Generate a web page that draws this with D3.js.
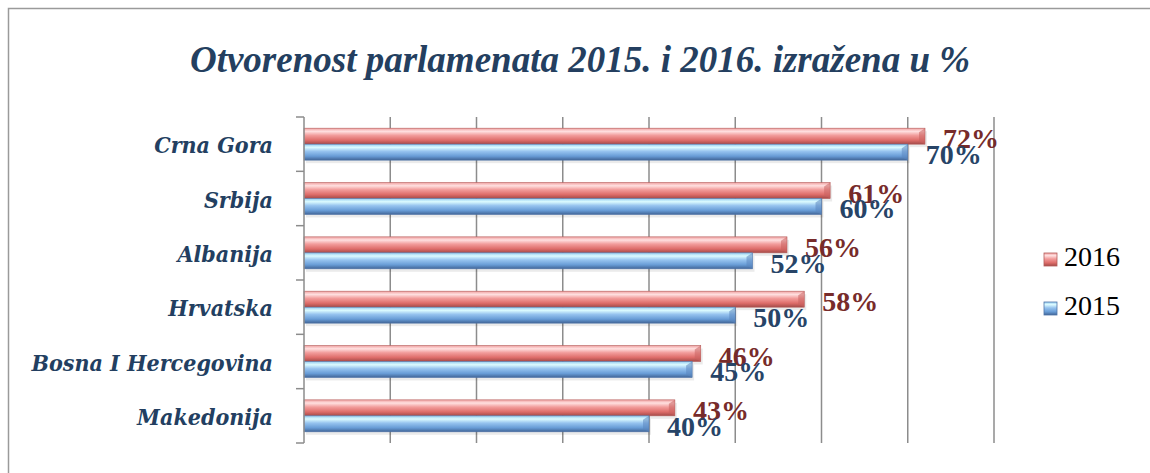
<!DOCTYPE html>
<html>
<head>
<meta charset="utf-8">
<script src="https://cdn.jsdelivr.net/npm/d3@7"></script>
<style>
  body { margin:0; background:#fff; }
  svg { display:block; }
</style>
</head>
<body>
<div id="chart"></div>
<script>
'use strict';
// podaci
var categories = ['Crna Gora','Srbija','Albanija','Hrvatska','Bosna I Hercegovina','Makedonija'];
var series = ['2016','2015'];
var values2016 = [72, 61, 56, 58, 46, 43];
var values2015 = [70, 60, 52, 50, 45, 40];
var xTicks = [0,10,20,30,40,50,60,70,80];

var width = 1150, height = 473;
var svg = d3.select('#chart').append('svg').attr('width', width).attr('height', height);

var defs = svg.append('defs');
function grad(id, stops) {
  var g = defs.append('linearGradient').attr('id', id).attr('x1',0).attr('y1',0).attr('x2',0).attr('y2',1);
  stops.forEach(function (s) { g.append('stop').attr('offset', s[0]).attr('stop-color', s[1]); });
}
grad('g2016', [[0,'#f0a0a0'],[0.2,'#ffe0e0'],[0.45,'#f29c9b'],[0.75,'#de6d6a'],[1,'#a44a48']]);
grad('g2015', [[0,'#96ccf0'],[0.2,'#dcfbff'],[0.45,'#96c3ef'],[0.75,'#689cd6'],[1,'#416597']]);
var fills = {'2016':'url(#g2016)','2015':'url(#g2015)'};
var edge = {'2016':'#b35d5b','2015':'#4f74a8'};
var labelColor = {'2016':'#772b2a','2015':'#274467'};

// okvir
svg.append('path').attr('d','M8.5,' + height + ' V8.5 H' + width)
  .attr('fill','none').attr('stroke','#9a9a9a').attr('stroke-width',1.5);

svg.append('text').attr('x', 580).attr('y', 72).attr('text-anchor','middle')
  .style('font-family','"Liberation Serif", "Times New Roman", serif')
  .style('font-weight','bold').style('font-style','italic').style('font-size','37px')
  .attr('fill','#243f60')
  .text('Otvorenost parlamenata 2015. i 2016. izražena u %');

var pLeft = 304, pRight = 994, pTop = 117, pBottom = 443;
var x = d3.scaleLinear().domain([0,80]).range([pLeft,pRight]);
var y0 = d3.scaleBand().domain(categories).range([pTop,pBottom]);
var y1 = d3.scaleBand().domain(series).range([0,y0.bandwidth()]).paddingOuter(0.7);

// mreza
svg.append('g').selectAll('line').data(xTicks.slice(1)).enter().append('line')
  .attr('x1', function (d) { return x(d); }).attr('x2', function (d) { return x(d); })
  .attr('y1', pTop).attr('y2', pBottom)
  .attr('stroke','#8c8c8c').attr('stroke-width',1.5);

var rows = categories.map(function (c, i) {
  return {cat:c, vals:[{s:'2016', v:values2016[i]},{s:'2015', v:values2015[i]}]};
});

var g = svg.append('g').selectAll('g').data(rows).enter().append('g')
  .attr('transform', function (d) { return 'translate(0,' + y0(d.cat) + ')'; });

// sjena
g.selectAll('.shadow').data(function (d) { return d.vals; }).enter().append('rect')
  .attr('x', pLeft + 2).attr('y', function (d) { return y1(d.s) + 3; })
  .attr('width', function (d) { return x(d.v) - pLeft; })
  .attr('height', y1.bandwidth())
  .attr('fill','#000').attr('opacity',0.08);

g.selectAll('.bar').data(function (d) { return d.vals; }).enter().append('rect')
  .attr('x', pLeft).attr('y', function (d) { return y1(d.s); })
  .attr('width', function (d) { return x(d.v) - pLeft; })
  .attr('height', y1.bandwidth())
  .attr('fill', function (d) { return fills[d.s]; })
  .attr('stroke', function (d) { return edge[d.s]; }).attr('stroke-width',0.6);

// kosi rub na kraju
g.selectAll('.bevel').data(function (d) { return d.vals; }).enter().append('path')
  .attr('d', function (d) {
    var xe = x(d.v), yt = y1(d.s), h = y1.bandwidth();
    return 'M' + (xe-6) + ',' + (yt+4) + ' L' + xe + ',' + yt + ' L' + xe + ',' + (yt+h) + ' L' + (xe-6) + ',' + (yt+h-3) + 'Z';
  })
  .attr('fill', function (d) { return d.s == '2016' ? '#c86361' : '#5b86c0'; }).attr('opacity',0.55);

g.selectAll('.lbl').data(function (d) { return d.vals; }).enter().append('text')
  .attr('x', function (d) { return x(d.v) + 18; })
  .attr('y', function (d) { return y1(d.s) + y1.bandwidth()/2 + 12; })
  .style('font-family','"Liberation Serif", "DejaVu Serif", serif')
  .style('font-weight','bold').style('font-size','28px')
  .attr('fill', function (d) { return labelColor[d.s]; })
  .text(function (d) { return d.v + '%'; });

// y os
var ax = svg.append('g').attr('stroke','#8c8c8c').attr('stroke-width',1.5);
ax.append('line').attr('x1',pLeft).attr('x2',pLeft).attr('y1',pTop).attr('y2',pBottom);
ax.selectAll('.tk').data(d3.range(categories.length + 1)).enter().append('line')
  .attr('x1', pLeft - 8).attr('x2', pLeft)
  .attr('y1', function (i) { return pTop + i * y0.step(); })
  .attr('y2', function (i) { return pTop + i * y0.step(); });

svg.append('g').selectAll('text').data(categories).enter().append('text')
  .attr('x', 273).attr('y', function (d) { return y0(d) + y0.bandwidth()/2 + 9; })
  .attr('text-anchor','end')
  .style('font-family','"DejaVu Serif Condensed", "DejaVu Serif", serif')
  .style('font-stretch','condensed')
  .style('font-weight','bold').style('font-style','italic').style('font-size','23px')
  .attr('fill','#233f61')
  .text(function (d) { return d; });

// legenda
var leg = svg.append('g').selectAll('g').data(series).enter().append('g')
  .attr('transform', function (d, i) { return 'translate(1044,' + (253 + i * 49) + ')'; });
leg.append('rect').attr('width',13).attr('height',13)
  .attr('fill', function (d) { return fills[d]; })
  .attr('stroke', function (d) { return edge[d]; }).attr('stroke-width',0.8);
leg.append('text').attr('x', 20).attr('y', 13)
  .style('font-family','"Liberation Serif", serif').style('font-size','28px')
  .attr('fill','#000')
  .text(function (d) { return d; });
</script>
</body>
</html>
